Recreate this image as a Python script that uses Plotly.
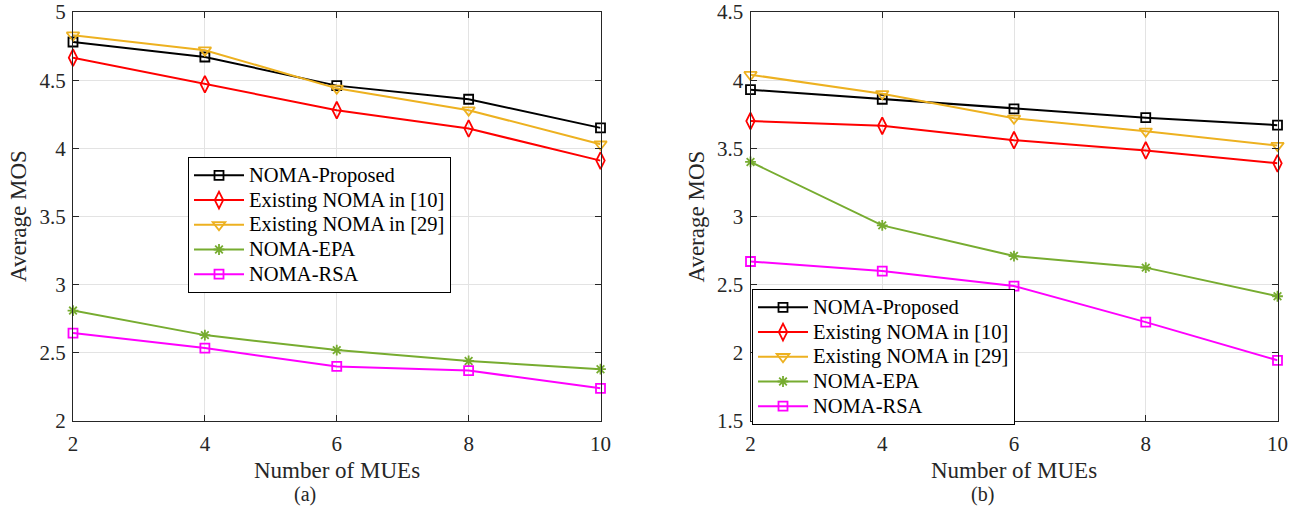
import plotly.graph_objects as go

# Number of MUEs on the horizontal axis
mues = [2, 4, 6, 8, 10]

# Panel (a): average MOS per scheme
a_proposed = [4.78, 4.67, 4.46, 4.36, 4.15]
a_noma10 = [4.665, 4.47, 4.28, 4.145, 3.91]
a_noma29 = [4.83, 4.72, 4.44, 4.28, 4.03]
a_epa = [2.81, 2.63, 2.52, 2.44, 2.38]
a_rsa = [2.645, 2.535, 2.40, 2.37, 2.24]

# Panel (b): average MOS per scheme
b_proposed = [3.93, 3.86, 3.79, 3.725, 3.67]
b_noma10 = [3.70, 3.665, 3.56, 3.485, 3.39]
b_noma29 = [4.04, 3.90, 3.72, 3.625, 3.52]
b_epa = [3.40, 2.935, 2.71, 2.625, 2.415]
b_rsa = [2.67, 2.60, 2.49, 2.225, 1.945]

names = ["NOMA-Proposed", "Existing NOMA in [10]", "Existing NOMA in [29]",
         "NOMA-EPA", "NOMA-RSA"]
colors = ["#000000", "#FF0000", "#EDB120", "#77AC30", "#FF00FF"]
symbols = ["square-open", "diamond-tall-open", "triangle-down-open",
           "asterisk-open", "square-open"]
msizes = [9, 12, 11, 9, 9]

W, H = 1304, 506
FONT = "Liberation Serif, Times New Roman, serif"
TXT = "#262626"
# legend rows are spaced by the small base size; the label itself is larger
LEG_BASE = 16.7
LEG_TEXT = 20.5

fig = go.Figure()

panels = [
    ([a_proposed, a_noma10, a_noma29, a_epa, a_rsa], "x", "y", "legend"),
    ([b_proposed, b_noma10, b_noma29, b_epa, b_rsa], "x2", "y2", "legend2"),
]
for series, xa, ya, lg in panels:
    for vals, name, col, sym, ms in zip(series, names, colors, symbols, msizes):
        fig.add_trace(go.Scatter(
            x=mues, y=vals, mode="lines+markers",
            name=f'<span style="font-size:{LEG_TEXT}px">{name}</span>',
            xaxis=xa, yaxis=ya, legend=lg, cliponaxis=False,
            line=dict(color=col, width=2),
            marker=dict(symbol=sym, size=ms, color=col,
                        line=dict(color=col, width=1.8)),
        ))

def px_x(p):
    return p / W

def px_y(p):
    return (H - p) / H

common_axis = dict(
    showline=True, linecolor=TXT, linewidth=1, mirror="ticks",
    ticks="inside", ticklen=6, tickcolor=TXT, tickwidth=1,
    showgrid=True, gridcolor="#E3E3E3", gridwidth=1, zeroline=False,
    automargin=False,
    tickfont=dict(family=FONT, size=21, color=TXT),
)

ydom = [px_y(421), px_y(12)]
legend_style = dict(xanchor="left", yanchor="top",
                    bgcolor="white", bordercolor="#000000", borderwidth=1,
                    font=dict(family=FONT, size=LEG_BASE, color="#000000"),
                    itemwidth=50, tracegroupgap=0)
fig.update_layout(
    width=W, height=H, margin=dict(l=0, r=0, t=0, b=0),
    paper_bgcolor="white", plot_bgcolor="white",
    showlegend=True,
    xaxis=dict(domain=[px_x(73), px_x(600.5)], range=[2, 10],
               tickvals=mues, anchor="y", ticklabelstandoff=4, **common_axis),
    yaxis=dict(domain=ydom, range=[2, 5], dtick=0.5, anchor="x",
               ticklabelstandoff=2, **common_axis),
    xaxis2=dict(domain=[px_x(750.5), px_x(1277.5)], range=[2, 10],
                tickvals=mues, anchor="y2", ticklabelstandoff=4, **common_axis),
    yaxis2=dict(domain=ydom, range=[1.5, 4.5], dtick=0.5, anchor="x2",
                ticklabelstandoff=2, **common_axis),
    legend=dict(x=px_x(188), y=px_y(157), **legend_style),
    legend2=dict(x=px_x(752), y=px_y(289), **legend_style),
)

annots = [
    dict(text="Number of MUEs", x=px_x(336.7), y=px_y(470)),
    dict(text="Number of MUEs", x=px_x(1014), y=px_y(470)),
    dict(text="Average MOS", x=px_x(18.5), y=px_y(216.5), textangle=-90),
    dict(text="Average MOS", x=px_x(696), y=px_y(216.5), textangle=-90),
]
for a in annots:
    fig.add_annotation(xref="paper", yref="paper", showarrow=False,
                       xanchor="center", yanchor="middle",
                       font=dict(family=FONT, size=23, color=TXT), **a)
for lab, xc in (("(a)", 305), ("(b)", 982)):
    fig.add_annotation(xref="paper", yref="paper", showarrow=False,
                       xanchor="center", yanchor="middle", text=lab,
                       x=px_x(xc), y=px_y(494),
                       font=dict(family=FONT, size=20, color=TXT))

fig.write_html("out.html")
